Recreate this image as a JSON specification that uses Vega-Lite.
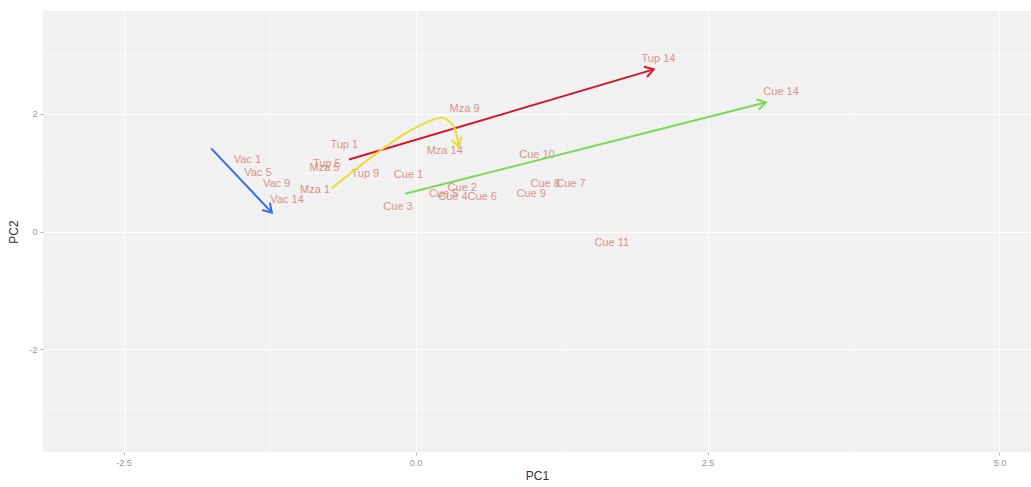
{
  "$schema": "https://vega.github.io/schema/vega-lite/v6.json",
  "width": 988,
  "height": 441,
  "autosize": {"type": "none"},
  "padding": {"left": 43, "top": 11, "right": 0, "bottom": 35},
  "background": "white",
  "config": {
    "view": {"fill": "#f1f1f1", "stroke": null},
    "font": "Liberation Sans",
    "axis": {
      "domain": false,
      "gridColor": "white",
      "tickColor": "#b0b0b0",
      "tickSize": 3,
      "labelColor": "#959595",
      "labelFontSize": 9,
      "labelPadding": 3,
      "titleColor": "#333333",
      "titleFontSize": 12,
      "titleFontWeight": "normal"
    }
  },
  "datasets": {
    "samples": [
      {"label": "Vac 1", "PC1": -1.44, "PC2": 1.22},
      {"label": "Vac 5", "PC1": -1.35, "PC2": 1.0},
      {"label": "Vac 9", "PC1": -1.19, "PC2": 0.81},
      {"label": "Vac 14", "PC1": -1.1, "PC2": 0.53},
      {"label": "Tup 1", "PC1": -0.61, "PC2": 1.46},
      {"label": "Mza 5", "PC1": -0.78, "PC2": 1.08},
      {"label": "Tup 5", "PC1": -0.76, "PC2": 1.14},
      {"label": "Tup 9", "PC1": -0.43, "PC2": 0.98},
      {"label": "Mza 1", "PC1": -0.86, "PC2": 0.71},
      {"label": "Mza 9", "PC1": 0.42, "PC2": 2.08},
      {"label": "Mza 14", "PC1": 0.25, "PC2": 1.36},
      {"label": "Tup 14", "PC1": 2.08, "PC2": 2.93},
      {"label": "Cue 1", "PC1": -0.06, "PC2": 0.95},
      {"label": "Cue 3", "PC1": -0.15, "PC2": 0.41},
      {"label": "Cue 5", "PC1": 0.24, "PC2": 0.64},
      {"label": "Cue 2", "PC1": 0.4, "PC2": 0.73},
      {"label": "Cue 4", "PC1": 0.32, "PC2": 0.59},
      {"label": "Cue 6", "PC1": 0.57, "PC2": 0.59},
      {"label": "Cue 9", "PC1": 0.99, "PC2": 0.64},
      {"label": "Cue 8", "PC1": 1.11, "PC2": 0.81},
      {"label": "Cue 7", "PC1": 1.33, "PC2": 0.81},
      {"label": "Cue 10", "PC1": 1.04, "PC2": 1.29},
      {"label": "Cue 11", "PC1": 1.68, "PC2": -0.19},
      {"label": "Cue 14", "PC1": 3.13, "PC2": 2.36}
    ],
    "trajectories": [
      {"site": "Vac", "step": 1, "PC1": -1.75, "PC2": 1.41},
      {"site": "Vac", "step": 2, "PC1": -1.23, "PC2": 0.32},
      {"site": "Tup", "step": 1, "PC1": -0.57, "PC2": 1.22},
      {"site": "Tup", "step": 2, "PC1": 2.04, "PC2": 2.75},
      {"site": "Cue", "step": 1, "PC1": -0.09, "PC2": 0.64},
      {"site": "Cue", "step": 2, "PC1": 3.0, "PC2": 2.19},
      {"site": "Mza", "step": 1, "PC1": -0.72, "PC2": 0.73},
      {"site": "Mza", "step": 2, "PC1": -0.31, "PC2": 1.36},
      {"site": "Mza", "step": 3, "PC1": -0.03, "PC2": 1.73},
      {"site": "Mza", "step": 4, "PC1": 0.23, "PC2": 1.93},
      {"site": "Mza", "step": 5, "PC1": 0.32, "PC2": 1.8},
      {"site": "Mza", "step": 6, "PC1": 0.37, "PC2": 1.44}
    ]
  },
  "encoding": {
    "x": {
      "field": "PC1",
      "type": "quantitative",
      "scale": {"domain": [-3.19, 5.27], "nice": false, "zero": false},
      "axis": {
        "title": "PC1",
        "titlePadding": 3,
        "values": [-2.5, -1.25, 0, 1.25, 2.5, 3.75, 5],
        "format": ".1f",
        "labelExpr": "datum.value % 2.5 === 0 ? replace(datum.label, '\u2212', '-') : ''",
        "tickOpacity": {"condition": {"test": "datum.value % 2.5 !== 0", "value": 0}, "value": 1},
        "gridWidth": {"condition": {"test": "datum.value % 2.5 !== 0", "value": 0.5}, "value": 1}
      }
    },
    "y": {
      "field": "PC2",
      "type": "quantitative",
      "scale": {"domain": [-3.74, 3.74], "nice": false, "zero": false},
      "axis": {
        "title": "PC2",
        "titlePadding": 8,
        "values": [-3, -2, -1, 0, 1, 2, 3],
        "format": "d",
        "labelExpr": "datum.value % 2 === 0 ? replace(datum.label, '\u2212', '-') : ''",
        "tickOpacity": {"condition": {"test": "datum.value % 2 !== 0", "value": 0}, "value": 1},
        "gridWidth": {"condition": {"test": "datum.value % 2 !== 0", "value": 0.5}, "value": 1}
      }
    }
  },
  "layer": [
    {
      "mark": {"type": "rule", "color": "#a6a6a6", "strokeWidth": 1},
      "encoding": {"x": {"datum": 0}, "y": null}
    },
    {
      "mark": {"type": "rule", "color": "#a6a6a6", "strokeWidth": 1},
      "encoding": {"y": {"datum": 0}, "x": null}
    },
    {
      "data": {"name": "samples"},
      "mark": {"type": "text", "fontSize": 11, "color": "#d2806f", "opacity": 0.82, "align": "center", "baseline": "middle"},
      "encoding": {"text": {"field": "label"}}
    },
    {
      "data": {"name": "trajectories"},
      "mark": {"type": "line", "strokeWidth": 2, "interpolate": "catmull-rom"},
      "encoding": {
        "order": {"field": "step", "type": "quantitative"},
        "detail": {"field": "site"},
        "color": {
          "field": "site",
          "type": "nominal",
          "scale": {"domain": ["Cue", "Mza", "Tup", "Vac"], "range": ["#7cd95a", "#f0da3e", "#d4162a", "#3c6ce0"]},
          "legend": null
        }
      }
    },
    {
      "data": {"name": "trajectories"},
      "transform": [
        {"window": [{"op": "lag", "field": "PC1", "as": "prev1"}, {"op": "lag", "field": "PC2", "as": "prev2"}], "groupby": ["site"], "sort": [{"field": "step"}]},
        {"joinaggregate": [{"op": "max", "field": "step", "as": "last"}], "groupby": ["site"]},
        {"filter": "datum.step === datum.last"},
        {"calculate": "atan2(-(datum.PC2 - datum.prev2) * 441 / 7.48, (datum.PC1 - datum.prev1) * 988 / 8.46) * 180 / PI", "as": "heading"}
      ],
      "mark": {"type": "point", "shape": "M-1,-0.62L0,0L-1,0.62", "filled": false, "strokeWidth": 2, "opacity": 1, "size": 300},
      "encoding": {
        "angle": {"field": "heading", "type": "quantitative", "scale": null},
        "color": {"field": "site", "type": "nominal", "legend": null}
      }
    }
  ]
}
